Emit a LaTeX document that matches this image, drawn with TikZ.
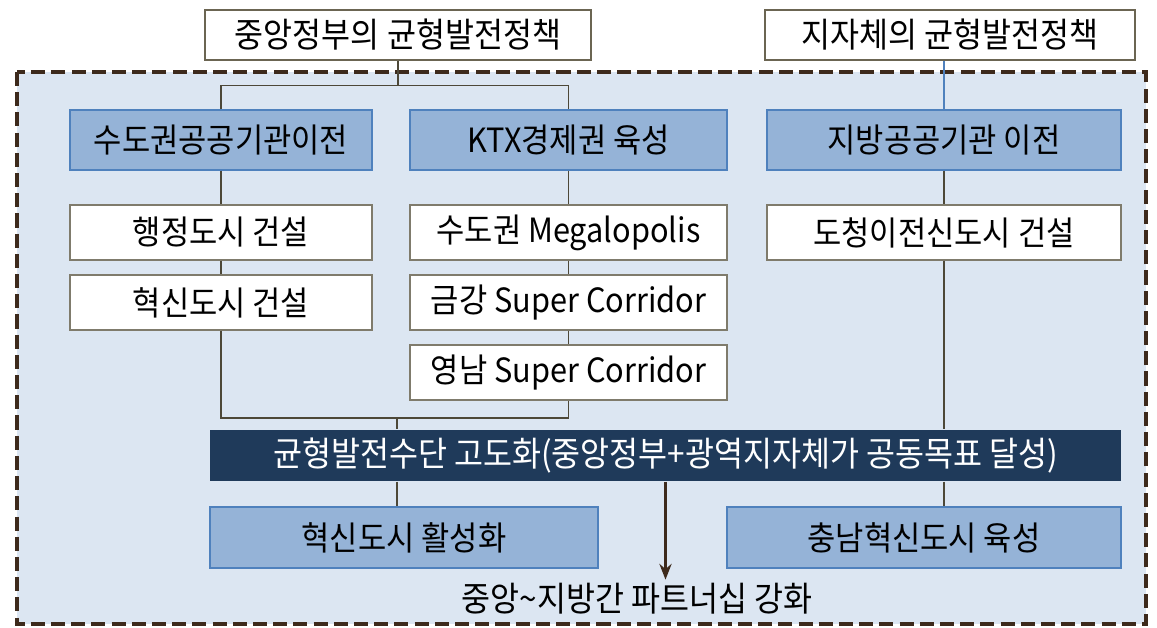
\documentclass[tikz,border=0pt]{standalone}
\usepackage{fontspec}
\setmainfont{Noto Sans CJK KR}[FakeStretch=0.92]
\usepackage{xcolor}
\usetikzlibrary{arrows.meta,positioning,calc}

\definecolor{frameFill}{HTML}{DCE6F2}
\definecolor{frameLine}{HTML}{3D2A1C}
\definecolor{blueFill}{HTML}{95B3D7}
\definecolor{blueLine}{HTML}{4F81BD}
\definecolor{boxLine}{HTML}{7F7B6C}
\definecolor{topLine}{HTML}{6B6552}
\definecolor{linkLine}{HTML}{4D4838}
\definecolor{barFill}{HTML}{1F3A5A}

\begin{document}
\begin{tikzpicture}[x=0.02cm, y=-0.02cm,
    box/.style={draw=boxLine, fill=white, line width=0.8pt, inner sep=0pt,
        minimum height=1.1cm, font=\fontsize{19}{22}\selectfont},
    bluebox/.style={box, draw=blueLine, fill=blueFill, minimum height=1.2cm},
    link/.style={draw=linkLine, line width=0.9pt}]
    \useasboundingbox (0,0) rectangle (1157,627);

    % outer dashed frame
    \draw[frameLine, line width=2.8pt, dash pattern=on 8pt off 3.5pt, fill=frameFill]
        (17,72) rectangle (1146,624);

    % policy boxes on top
    \node[box, draw=topLine, minimum width=7.72cm, minimum height=1cm,
        font=\fontsize{19.5}{22}\selectfont] (gov) at (398,35) {중앙정부의 균형발전정책};
    \node[box, draw=topLine, minimum width=7.4cm, minimum height=1cm,
        font=\fontsize{19.5}{22}\selectfont] (local) at (950,35) {지자체의 균형발전정책};

    \node[bluebox, minimum width=6.04cm] (cap) at (221,140) {수도권공공기관이전};
    \node[bluebox, minimum width=6.34cm] (ktx) at (568.5,140) {KTX경제권 육성};
    \node[bluebox, minimum width=7.08cm] (reg) at (944,140) {지방공공기관 이전};

    \node[box, minimum width=6.04cm] (admin) at (221,232.5) {행정도시 건설};
    \node[box, minimum width=6.04cm] (innov) at (221,302.5) {혁신도시 건설};
    \node[box, minimum width=6.34cm] (mega) at (568.5,232.5) {수도권 Megalopolis};
    \node[box, minimum width=6.34cm] (geum) at (568.5,302.5) {금강 Super Corridor};
    \node[box, minimum width=6.34cm] (yeong) at (568.5,372.5) {영남 Super Corridor};
    \node[box, minimum width=7.08cm] (dosi) at (944,232.5) {도청이전신도시 건설};

    \node[box, draw=none, fill=barFill, text=white, minimum width=18.22cm, minimum height=1.02cm,
        font=\fontsize{19.5}{22}\selectfont] (means) at (665.5,455.5) {균형발전수단 고도화(중앙정부+광역지자체가 공동목표 달성)};

    \node[bluebox, minimum width=7.76cm, minimum height=1.22cm] (act) at (404,537.5) {혁신도시 활성화};
    \node[bluebox, minimum width=7.88cm, minimum height=1.22cm] (cn) at (924,537.5) {충남혁신도시 육성};

    \node[font=\fontsize{19.5}{22}\selectfont, inner sep=2pt] (goal) at (637,599) {중앙\textasciitilde 지방간 파트너십 강화};

    % connectors
    \draw[link] (gov.south) -- ++(0,25) coordinate (jTop);
    \draw[link] (cap.north) |- (jTop) -| (ktx.north);
    \draw[link] (cap.south) -- (admin.north);
    \draw[link] (admin.south) -- (innov.north);
    \draw[link] (ktx.south) -- (mega.north);
    \draw[link] (mega.south) -- (geum.north);
    \draw[link] (geum.south) -- (yeong.north);
    \coordinate (jBot) at (397,418);
    \draw[link] (innov.south) |- (jBot) -| (yeong.south);
    \draw[link] (jBot) -- (jBot |- means.north);

    \draw[blueLine, line width=0.8pt] (reg.north |- local.south) -- (reg.north);
    \draw[link] (reg.south) -- (dosi.north);
    \draw[link] (dosi.south) -- (dosi.south |- means.north);

    \draw[link] (means.south -| jBot) -- (act.north -| jBot);
    \draw[link] (means.south -| dosi.south) -- (cn.north -| dosi.south);
    \draw[frameLine, line width=1.2pt, -{Stealth[length=9pt, width=7pt, inset=3pt]}]
        (means.south) -- (means.south |- goal.north);
\end{tikzpicture}
\end{document}
